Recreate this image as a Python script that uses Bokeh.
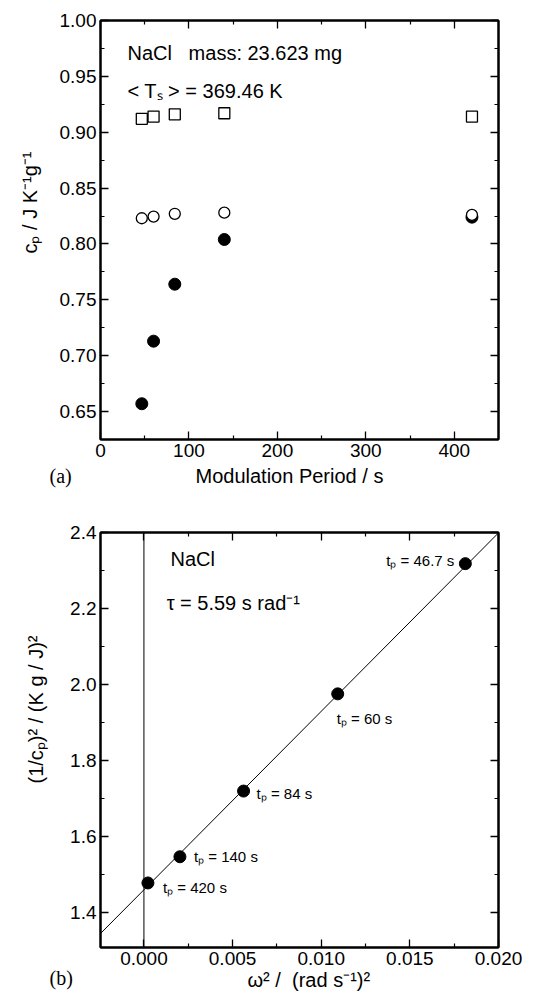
from bokeh.plotting import figure
from bokeh.models import Label, LinearAxis, FixedTicker, PrintfTickFormatter, Range1d, Slope, Span, Title
from bokeh.layouts import column
from bokeh.embed import file_html
from bokeh.resources import INLINE

# ---------------- Panel (a) data ----------------
period_s = [46.7, 60, 84, 140, 420]
cp_square = [0.912, 0.914, 0.916, 0.917, 0.914]
cp_open = [0.823, 0.8245, 0.827, 0.828, 0.826]
cp_filled = [0.657, 0.713, 0.764, 0.804, 0.824]
a_xticks = [0, 100, 200, 300, 400]
a_xminor = [50, 150, 250, 350]
a_yticks = [0.65, 0.70, 0.75, 0.80, 0.85, 0.90, 0.95, 1.00]
a_yminor = [0.675, 0.725, 0.775, 0.825, 0.875, 0.925, 0.975]

# ---------------- Panel (b) data ----------------
omega2 = [0.01813, 0.01093, 0.00562, 0.00203, 0.000225]
inv_cp2 = [2.318, 1.975, 1.719, 1.546, 1.477]
tp_labels = ["t\u209a = 46.7 s", "t\u209a = 60 s", "t\u209a = 84 s", "t\u209a = 140 s", "t\u209a = 420 s"]
fit_intercept = 1.459
fit_slope = 47.0
b_xticks = [0.000, 0.005, 0.010, 0.015, 0.020]
b_xminor = [0.0025, 0.0075, 0.0125, 0.0175]
b_yticks = [1.4, 1.6, 1.8, 2.0, 2.2, 2.4]
b_yminor = [1.5, 1.7, 1.9, 2.1, 2.3]

FONT = "Liberation Sans"
TICK_SIZE = "19px"


def style_axis(ax, ticks, minor, fmt, labels=True):
    ax.ticker = FixedTicker(ticks=ticks, minor_ticks=minor)
    ax.formatter = PrintfTickFormatter(format=fmt)
    ax.major_tick_in = 8
    ax.major_tick_out = 0
    ax.minor_tick_in = 4
    ax.minor_tick_out = 0
    ax.axis_line_width = 2
    ax.axis_line_color = "black"
    ax.major_tick_line_color = "black"
    ax.minor_tick_line_color = "black"
    ax.major_tick_line_width = 1.3
    ax.minor_tick_line_width = 1.2
    ax.major_label_text_font = FONT
    ax.major_label_standoff = 4
    if labels:
        ax.major_label_text_font_size = TICK_SIZE
        ax.major_label_text_color = "black"
    else:
        ax.major_label_text_font_size = "0px"
        ax.major_label_text_color = None
        ax.major_label_standoff = 0


def make_fig(width, height, xr, yr, left, right, top, bottom):
    p = figure(width=width, height=height, x_range=xr, y_range=yr,
               output_backend="svg", toolbar_location=None,
               min_border_left=left, min_border_right=right,
               min_border_top=top, min_border_bottom=bottom)
    p.grid.visible = False
    p.outline_line_color = "black"
    p.outline_line_width = 2
    p.background_fill_color = "white"
    p.border_fill_color = "white"
    return p


def add_label(p, x, y, text, size="20px", align="left", font=FONT, xo=0, yo=0):
    p.add_layout(Label(x=x, y=y, text=text, text_font=font, text_font_size=size,
                       text_color="black", text_align=align, text_baseline="middle",
                       x_offset=xo, y_offset=yo))


def add_title(p, side, text, offset, standoff, font=FONT, valign="bottom"):
    p.add_layout(Title(text=text, align="left", offset=offset, standoff=standoff,
                       vertical_align=valign,
                       text_font=font, text_font_size="20px", text_font_style="normal",
                       text_color="black"), side)


# ---------------- Figure (a) ----------------
p1 = make_fig(544, 500, Range1d(0, 450), Range1d(0.625, 1.00), 100, 46, 20, 61)
style_axis(p1.xaxis[0], a_xticks, a_xminor, "%d")
style_axis(p1.yaxis[0], a_yticks, a_yminor, "%.2f")
ax_r = LinearAxis()
style_axis(ax_r, a_yticks, a_yminor, "%.2f", labels=False)
p1.add_layout(ax_r, "right")
ax_t = LinearAxis()
style_axis(ax_t, a_xticks, a_xminor, "%d", labels=False)
p1.add_layout(ax_t, "above")

p1.scatter(period_s, cp_square, marker="square", size=11, fill_color="white",
           line_color="black", line_width=1.3)
p1.scatter(period_s, cp_filled, marker="circle", size=12, fill_color="black",
           line_color="black", line_width=1)
p1.scatter(period_s, cp_open, marker="circle", size=11, fill_color="white",
           line_color="black", line_width=1.3)

add_label(p1, 30.5, 0.9712, "NaCl\u00a0\u00a0\u00a0mass: 23.623 mg")
add_label(p1, 30.5, 0.937, "< T\u209b > = 369.46 K")
add_title(p1, "left", "c\u209a / J K\u207b\u00b9g\u207b\u00b9", 186, 32)
add_title(p1, "below", "Modulation Period / s", 95, 7)
add_title(p1, "below", "(a)", -51, -52, font="Liberation Serif", valign="top")

# ---------------- Figure (b) ----------------
p2 = make_fig(544, 502, Range1d(-0.00245, 0.020), Range1d(1.307, 2.40), 100, 45, 32, 55)
style_axis(p2.xaxis[0], b_xticks, b_xminor, "%.3f")
style_axis(p2.yaxis[0], b_yticks, b_yminor, "%.1f")
bx_r = LinearAxis()
style_axis(bx_r, b_yticks, b_yminor, "%.1f", labels=False)
p2.add_layout(bx_r, "right")
bx_t = LinearAxis()
style_axis(bx_t, b_xticks, b_xminor, "%.3f", labels=False)
p2.add_layout(bx_t, "above")

p2.add_layout(Span(location=0, dimension="height", line_color="black", line_width=1))
p2.add_layout(Slope(gradient=fit_slope, y_intercept=fit_intercept, line_color="black", line_width=1))
p2.scatter(omega2, inv_cp2, marker="circle", size=12, fill_color="black", line_color="black")

offsets = [(-11, 3, "right"), (-1, -25, "left"), (13, -2, "left"), (14, 0, "left"), (15, -5, "left")]
for xv, yv, txt, (xo, yo, al) in zip(omega2, inv_cp2, tp_labels, offsets):
    add_label(p2, xv, yv, txt, size="15px", align=al, xo=xo, yo=yo)

add_label(p2, 0.0015, 2.331, "NaCl")
add_label(p2, 0.00128, 2.215, "\u03c4 = 5.59 s rad\u207b\u00b9")
add_title(p2, "left", "(1/c\u209a)\u00b2 / (K g / J)\u00b2", 164, 42)
add_title(p2, "below", "\u03c9\u00b2 /\u00a0\u00a0(rad s\u207b\u00b9)\u00b2", 147, -2)
add_title(p2, "below", "(b)", -51, -46, font="Liberation Serif", valign="top")

layout = column(p1, p2)
open("out.html", "w").write(file_html(layout, INLINE))
